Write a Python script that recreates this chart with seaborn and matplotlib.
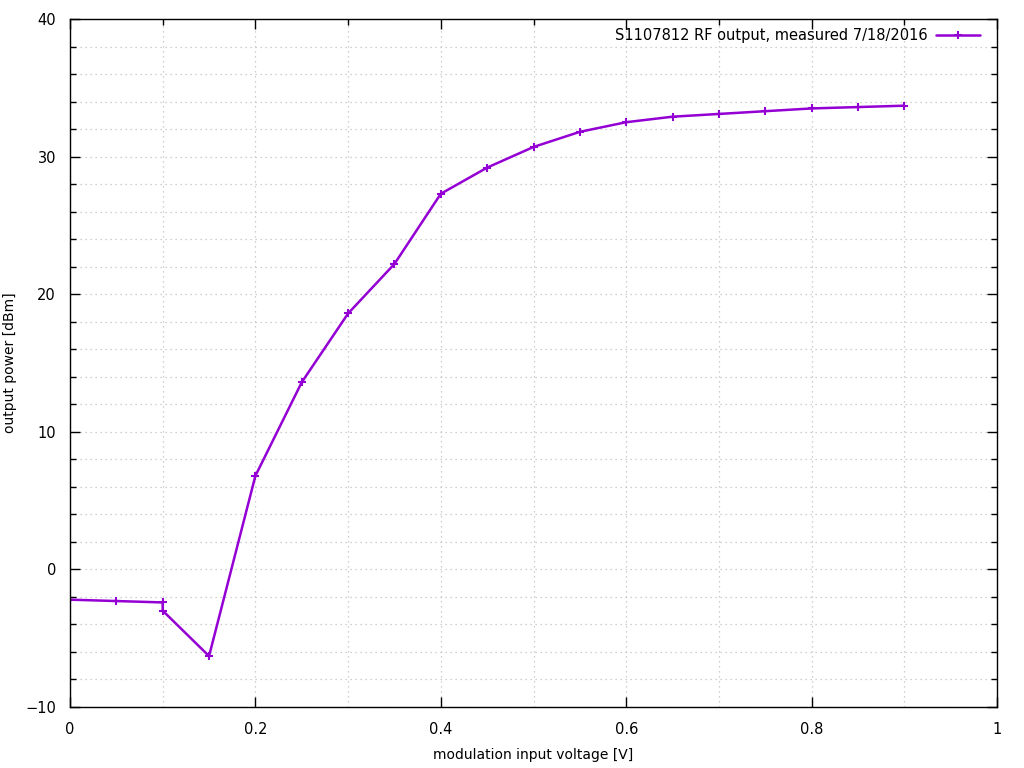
import matplotlib
matplotlib.use("Agg")
import matplotlib.pyplot as plt
import seaborn as sns
import pandas as pd
from matplotlib.ticker import MultipleLocator, FuncFormatter

voltage = [0.0, 0.05, 0.1, 0.1, 0.15, 0.2, 0.25, 0.3, 0.35, 0.4, 0.45, 0.5,
           0.55, 0.6, 0.65, 0.7, 0.75, 0.8, 0.85, 0.9]
power = [-2.2, -2.3, -2.4, -3.0, -6.3, 6.8, 13.6, 18.6, 22.2, 27.3, 29.2, 30.7,
         31.8, 32.5, 32.9, 33.1, 33.3, 33.5, 33.6, 33.7]
label = "S1107812 RF output, measured 7/18/2016"

df = pd.DataFrame({"v": voltage, "p": power})

sns.set_theme(style="white")
plt.rcParams['font.family'] = ['DejaVu Sans']
plt.rcParams['text.color'] = 'black'
plt.rcParams['axes.labelcolor'] = 'black'

fig = plt.figure(figsize=(10.24, 7.68), dpi=100)
ax = fig.add_axes([70/1024, 61/768, 927/1024, 688/768])

sns.lineplot(data=df, x="v", y="p", sort=False, estimator=None, ax=ax, color="#9400D3",
             linewidth=1.8, marker="+", markersize=6, markeredgewidth=1.5,
             markeredgecolor="#9400D3", label=label)

ax.set_xlim(0, 1)
ax.set_ylim(-10, 40)
ax.xaxis.set_major_locator(MultipleLocator(0.2))
ax.xaxis.set_minor_locator(MultipleLocator(0.1))
ax.yaxis.set_major_locator(MultipleLocator(10))
ax.yaxis.set_minor_locator(MultipleLocator(2))
ax.xaxis.set_major_formatter(FuncFormatter(lambda v, p: f"{v:g}"))

ax.grid(True, which="both", color="#c0c0c0", linestyle=(0, (1, 3)), linewidth=0.9)
ax.tick_params(which="both", direction="in", top=True, right=True, bottom=True, left=True,
               colors="black", labelsize=10.5)
ax.tick_params(which="major", length=7, width=1)
ax.tick_params(axis="x", which="major", pad=11)
ax.tick_params(axis="y", which="major", pad=10)
ax.tick_params(which="minor", length=4, width=1)
ax.tick_params(axis="x", which="minor", bottom=False, top=True)
for s in ax.spines.values():
    s.set_color("black")
    s.set_linewidth(1)

ax.set_xlabel("modulation input voltage [V]", fontsize=10, labelpad=8)
ax.set_ylabel("output power [dBm]", fontsize=10, labelpad=6)

leg = ax.legend(loc="upper right", bbox_to_anchor=(0.991, 1.0), frameon=False,
                markerfirst=False, fontsize=10.5, handlelength=3, borderaxespad=0.5,
                borderpad=0.1, handletextpad=0.6)

fig.savefig("out.png", dpi=100)
